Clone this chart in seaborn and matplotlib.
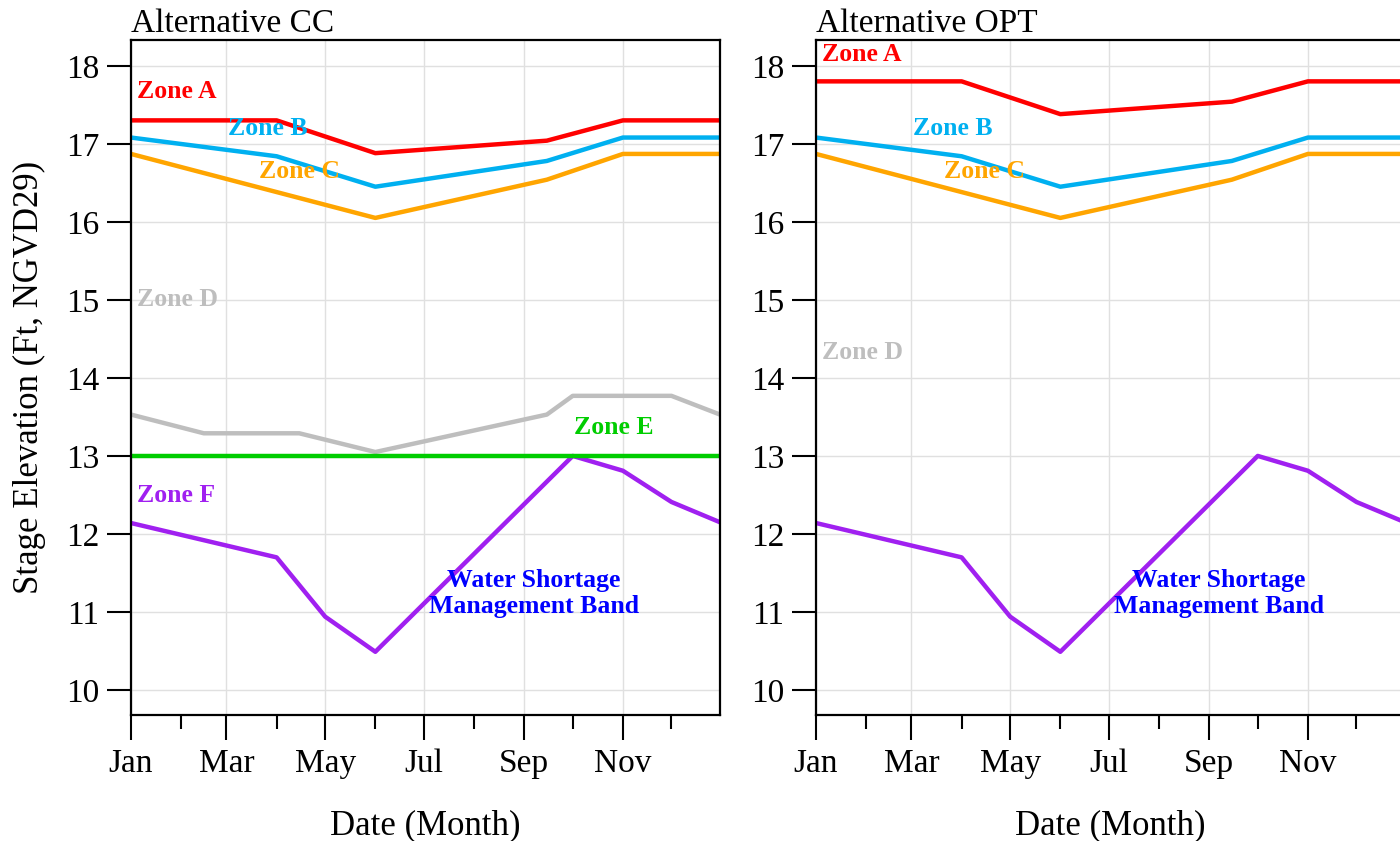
import pandas as pd
import numpy as np
import matplotlib
matplotlib.use("Agg")
import matplotlib.pyplot as plt
import matplotlib.dates as mdates
import seaborn as sns

# zone break points (day of year, 2001)
dates_ab = pd.to_datetime(["2001-01-01", "2001-04-01", "2001-06-01", "2001-09-15", "2001-11-01", "2001-12-31"])
zone_a_cc = [17.3, 17.3, 16.88, 17.04, 17.3, 17.3]
zone_a_opt = [17.8, 17.8, 17.38, 17.54, 17.8, 17.8]
zone_b = [17.08, 16.84, 16.45, 16.78, 17.08, 17.08]

dates_c = pd.to_datetime(["2001-01-01", "2001-06-01", "2001-09-15", "2001-11-01", "2001-12-31"])
zone_c = [16.87, 16.05, 16.54, 16.87, 16.87]

dates_d = pd.to_datetime(["2001-01-01", "2001-02-15", "2001-04-15", "2001-06-01",
                          "2001-09-15", "2001-10-01", "2001-12-01", "2001-12-31"])
zone_d = [13.53, 13.29, 13.29, 13.05, 13.53, 13.77, 13.77, 13.53]

dates_e = pd.to_datetime(["2001-01-01", "2001-12-31"])
zone_e = [13.0, 13.0]

dates_f = pd.to_datetime(["2001-01-01", "2001-04-01", "2001-05-01", "2001-06-01",
                          "2001-10-01", "2001-11-01", "2001-12-01", "2001-12-31"])
zone_f = [12.14, 11.70, 10.94, 10.49, 13.0, 12.81, 12.41, 12.15]

colors = {"A": "#FF0000", "B": "#00B0F0", "C": "#FFA500", "D": "#BEBEBE",
          "E": "#00CD00", "F": "#A020F0", "W": "#0000FF"}

sns.set_theme(style="white")
plt.rcParams["font.family"] = ["Liberation Serif", "DejaVu Serif"]
plt.rcParams["text.color"] = "black"
plt.rcParams["axes.labelcolor"] = "black"
plt.rcParams["xtick.color"] = "black"
plt.rcParams["ytick.color"] = "black"

fig = plt.figure(figsize=(14, 8.41), dpi=100)
ax1 = fig.add_axes([131 / 1400, 1 - 715 / 841, 589 / 1400, 675 / 841])
ax2 = fig.add_axes([816 / 1400, 1 - 715 / 841, 589 / 1400, 675 / 841])


def d(s):
    return pd.Timestamp(s)


def draw(ax, zone_a, show_d_e, title):
    lw = 3.2
    sns.lineplot(x=dates_f, y=zone_f, ax=ax, color=colors["F"], lw=lw)
    if show_d_e:
        sns.lineplot(x=dates_d, y=zone_d, ax=ax, color=colors["D"], lw=lw)
        sns.lineplot(x=dates_e, y=zone_e, ax=ax, color=colors["E"], lw=lw)
    sns.lineplot(x=dates_c, y=zone_c, ax=ax, color=colors["C"], lw=lw)
    sns.lineplot(x=dates_ab, y=zone_b, ax=ax, color=colors["B"], lw=lw)
    sns.lineplot(x=dates_ab, y=zone_a, ax=ax, color=colors["A"], lw=lw)

    ax.set_xlim(d("2001-01-01"), d("2001-12-31"))
    ax.set_ylim(9.68, 18.33)
    ax.set_yticks(range(10, 19))
    ax.xaxis.set_major_locator(mdates.MonthLocator(bymonth=[1, 3, 5, 7, 9, 11]))
    ax.xaxis.set_minor_locator(mdates.MonthLocator(bymonth=[2, 4, 6, 8, 10, 12]))
    ax.xaxis.set_major_formatter(mdates.DateFormatter("%b"))

    ax.grid(True, which="major", color="#E0E0E0", lw=1)
    ax.set_axisbelow(True)
    for sp in ax.spines.values():
        sp.set_color("black")
        sp.set_linewidth(1.6)
    ax.tick_params(axis="x", which="major", direction="out", length=18, width=1.5,
                   pad=6, labelsize=24, bottom=True)
    ax.tick_params(axis="x", which="minor", direction="out", length=10, width=1.5,
                   bottom=True)
    ax.tick_params(axis="y", which="major", direction="out", length=17, width=1.5,
                   pad=6, labelsize=24, left=True)

    ax.set_xlabel("Date (Month)", fontsize=25, labelpad=22)
    ax.set_ylabel("Stage Elevation (Ft, NGVD29)" if show_d_e else "", fontsize=25, labelpad=14)
    ax.set_title(title, loc="left", fontsize=24, pad=6)

    kw = dict(fontsize=18.5, fontweight="bold", va="center", ha="left")
    if show_d_e:
        ax.text(d("2001-01-05"), 17.67, "Zone A", color=colors["A"], **kw)
        ax.text(d("2001-01-05"), 15.0, "Zone D", color=colors["D"], **kw)
        ax.text(d("2001-10-02"), 13.36, "Zone E", color=colors["E"], **kw)
        ax.text(d("2001-01-05"), 12.49, "Zone F", color=colors["F"], **kw)
    else:
        ax.text(d("2001-01-05"), 18.15, "Zone A", color=colors["A"], **kw)
        ax.text(d("2001-01-05"), 14.33, "Zone D", color=colors["D"], **kw)
    ax.text(d("2001-03-02"), 17.19, "Zone B", color=colors["B"], **kw)
    ax.text(d("2001-03-21"), 16.65, "Zone C", color=colors["C"], **kw)
    ax.text(d("2001-09-07"), 11.24, "Water Shortage\nManagement Band", color=colors["W"],
            fontsize=18.5, fontweight="bold", va="center", ha="center",
            multialignment="center", linespacing=1.15)


draw(ax1, zone_a_cc, True, "Alternative CC")
draw(ax2, zone_a_opt, False, "Alternative OPT")

fig.savefig("out.png", dpi=100)
